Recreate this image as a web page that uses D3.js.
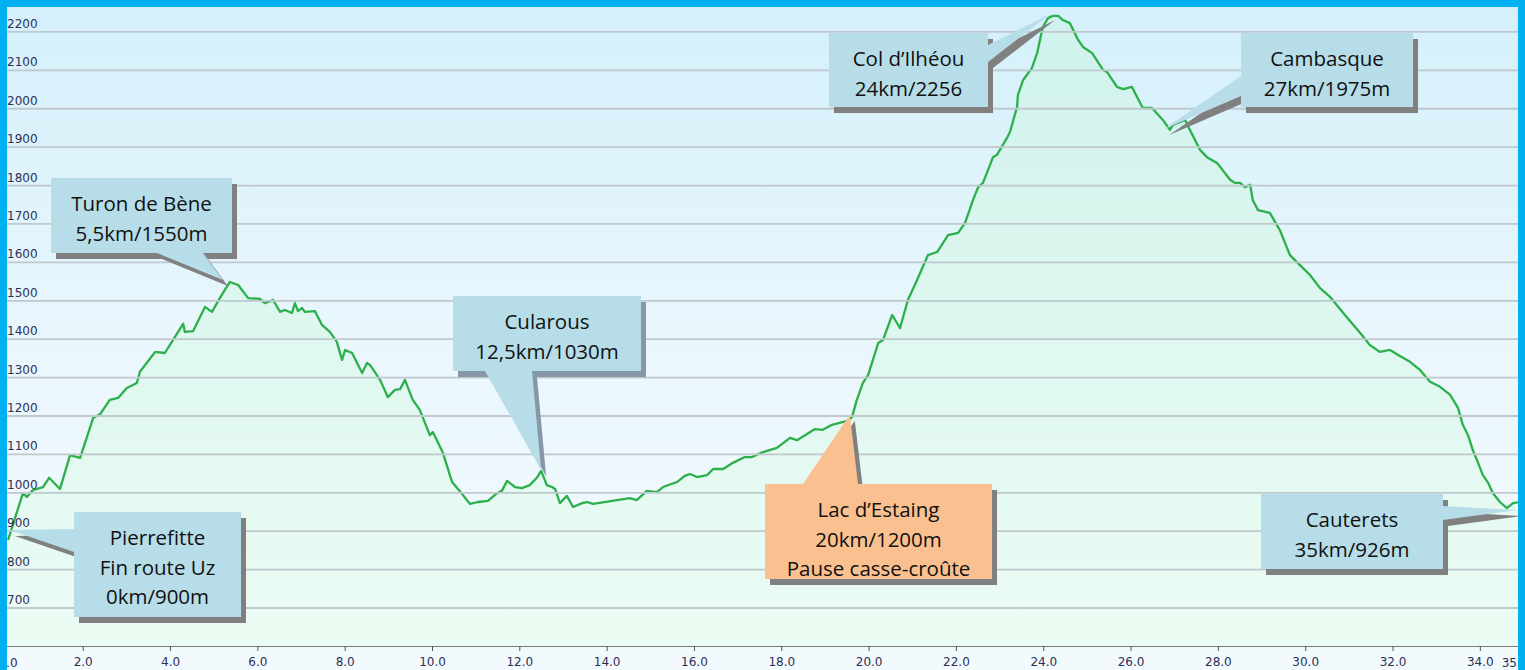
<!DOCTYPE html>
<html lang="fr">
<head>
<meta charset="UTF-8">
<title>Profil</title>
<script src="https://d3js.org/d3.v7.min.js"></script>
<style>
  body { margin: 0; background: #fff; }
  svg { display: block; }
</style>
</head>
<body>
<svg id="chart" width="1525" height="670"></svg>
<script>
// profil : distance (km) / altitude (m)
var distKm = [0.29, 0.63, 0.72, 0.86, 1.09, 1.23, 1.48, 1.71, 1.94, 2.24, 2.40, 2.62, 2.81, 3.01, 3.24, 3.31,
  3.66, 3.88, 4.07, 4.30, 4.34, 4.53, 4.80, 4.96, 5.14, 5.37, 5.56, 5.79, 6.06, 6.17, 6.36, 6.52, 6.63, 6.79,
  6.86, 6.93, 7.02, 7.09, 7.32, 7.48, 7.66, 7.82, 7.94, 8.01, 8.17, 8.40, 8.51, 8.58, 8.81, 8.99, 9.15, 9.27,
  9.38, 9.56, 9.72, 9.95, 10.02, 10.25, 10.46, 10.71, 10.87, 11.05, 11.28, 11.49, 11.60, 11.72, 11.90, 12.06,
  12.24, 12.40, 12.50, 12.63, 12.75, 12.82, 12.93, 13.09, 13.23, 13.44, 13.55, 13.69, 14.53, 14.69, 14.92,
  15.15, 15.29, 15.61, 15.79, 15.91, 16.07, 16.30, 16.44, 16.67, 16.89, 17.17, 17.33, 17.58, 17.90, 18.20,
  18.36, 18.59, 18.77, 18.95, 19.16, 19.51, 19.62, 19.73, 19.87, 19.99, 20.22, 20.33, 20.54, 20.72, 20.90,
  21.11, 21.36, 21.57, 21.82, 22.05, 22.21, 22.39, 22.51, 22.62, 22.85, 22.94, 23.17, 23.24, 23.40, 23.42,
  23.54, 23.74, 23.86, 23.99, 24.11, 24.22, 24.34, 24.45, 24.61, 24.80, 24.91, 25.12, 25.37, 25.46, 25.69,
  25.83, 26.03, 26.28, 26.49, 26.74, 26.90, 26.97, 27.25, 27.36, 27.59, 27.75, 27.98, 28.28, 28.39, 28.51,
  28.62, 28.74, 28.80, 28.92, 29.19, 29.42, 29.65, 29.88, 30.11, 30.34, 30.57, 30.91, 31.26, 31.48, 31.71,
  31.94, 32.17, 32.40, 32.63, 32.86, 33.09, 33.32, 33.50, 33.61, 33.73, 33.84, 33.96, 34.07, 34.19, 34.30,
  34.46, 34.62, 34.76, 34.92];
var elevM = [877, 999, 989, 1007, 1015, 1039, 1010, 1098, 1091, 1195, 1205, 1242, 1247, 1273, 1286, 1315,
  1367, 1364, 1398, 1440, 1419, 1421, 1484, 1471, 1507, 1549, 1541, 1507, 1505, 1494, 1502, 1471, 1476, 1468,
  1494, 1473, 1481, 1471, 1473, 1437, 1419, 1393, 1346, 1372, 1364, 1312, 1338, 1333, 1294, 1249, 1268, 1270,
  1294, 1242, 1216, 1150, 1158, 1104, 1028, 994, 971, 976, 979, 999, 1005, 1031, 1015, 1012,
  1020, 1039, 1057, 1020, 1015, 1010, 973, 992, 963, 973, 976, 971, 986, 981, 1005,
  1002, 1015, 1028, 1044, 1049, 1041, 1046, 1062, 1062, 1078, 1093, 1093, 1106, 1117, 1143,
  1137, 1153, 1166, 1164, 1177, 1187, 1197, 1242, 1286, 1307, 1390, 1398, 1463, 1429, 1502,
  1554, 1619, 1627, 1671, 1677, 1703, 1762, 1796, 1807, 1874, 1880, 1924, 1940, 2005, 2036,
  2075, 2106, 2145, 2213, 2236, 2242, 2242, 2231, 2223, 2179, 2161, 2145, 2101, 2096, 2057,
  2051, 2057, 2002, 2002, 1971, 1945, 1958, 1971, 1945, 1893, 1874, 1859, 1815, 1807, 1807,
  1796, 1802, 1762, 1736, 1729, 1684, 1619, 1593, 1567, 1533, 1510, 1463, 1416, 1385, 1367,
  1372, 1356, 1341, 1320, 1289, 1276, 1255, 1221, 1177, 1150, 1111, 1078, 1046, 1026, 999,
  976, 960, 973, 976];

var yTicks = d3.range(700, 2201, 100);
var xTicks = d3.range(2, 35, 2);
var xEnds = [0, 35];

// étapes : texte + point visé (km, m)
var stepLines = [
  ["Turon de Bène", "5,5km/1550m"],
  ["Cularous", "12,5km/1030m"],
  ["Lac d\u2019Estaing", "20km/1200m", "Pause casse-croûte"],
  ["Col d\u2019Ilhéou", "24km/2256"],
  ["Cambasque", "27km/1975m"],
  ["Pierrefitte", "Fin route Uz", "0km/900m"],
  ["Cauterets", "35km/926m"]
];
var stepKm = [5.21, 12.50, 19.57, 24.16, 26.77, 0.33, 34.85];
var stepM = [1554, 1059, 1203, 2247, 1947, 903, 955];

// mise en page des bulles
var boxes = [
  { x: 51, y: 178, w: 181, h: 75, base: [[157, 253], [203, 253]], fill: "#b7dde8", shadow: "#808080" },
  { x: 453, y: 296, w: 188, h: 75, base: [[485, 371], [532, 371]], fill: "#b7dde8", shadow: "#8797aa" },
  { x: 765, y: 484, w: 227, h: 95, base: [[803, 484], [858, 484]], fill: "#fac08f", shadow: "#808080" },
  { x: 829, y: 33, w: 159, h: 74, base: [[988, 45], [988, 62]], fill: "#b7dde8", shadow: "#808080" },
  { x: 1241, y: 33, w: 172, h: 74, base: [[1241, 76], [1241, 96]], fill: "#b7dde8", shadow: "#808080" },
  { x: 74, y: 512, w: 167, h: 105, base: [[74, 529], [74, 552]], fill: "#b7dde8", shadow: "#808080" },
  { x: 1261, y: 494, w: 182, h: 75, base: [[1443, 506], [1443, 520]], fill: "#b7dde8", shadow: "#808080" }
];

var svg = d3.select("#chart");
var W = 1525, H = 670;
var plot = { left: 7, right: 1518, top: 7, bottom: 646 };

var x = d3.scaleLinear().domain([0, 35]).range([-4.6, 1523.5]);
var y = d3.scaleLinear().domain([600, 2265]).range([646.4, 7]);

var defs = svg.append("defs");
var bg = defs.append("linearGradient").attr("id", "bg").attr("x1", 0).attr("y1", 0).attr("x2", 0).attr("y2", 1);
bg.append("stop").attr("offset", "0%").attr("stop-color", "#d4f0fb");
bg.append("stop").attr("offset", "55%").attr("stop-color", "#ebf7fd");
bg.append("stop").attr("offset", "100%").attr("stop-color", "#f3fafd");

var ar = defs.append("linearGradient").attr("id", "ar").attr("gradientUnits", "userSpaceOnUse")
  .attr("x1", 0).attr("y1", 10).attr("x2", 0).attr("y2", 646);
ar.append("stop").attr("offset", "0%").attr("stop-color", "#d0f2ec");
ar.append("stop").attr("offset", "100%").attr("stop-color", "#ebfcf3");

defs.append("clipPath").attr("id", "clip").append("rect")
  .attr("x", plot.left).attr("y", plot.top)
  .attr("width", plot.right - plot.left).attr("height", plot.bottom - plot.top);

svg.append("rect").attr("width", W).attr("height", H).attr("fill", "url(#bg)");

var pts = distKm.map(function(d, i) { return [d, elevM[i]]; });

var gPlot = svg.append("g").attr("clip-path", "url(#clip)");

gPlot.append("path")
  .datum(pts)
  .attr("fill", "url(#ar)")
  .attr("d", d3.area().x(function(d) { return x(d[0]); }).y0(y(600)).y1(function(d) { return y(d[1]); }));

// grille
svg.append("g").selectAll("line")
  .data(yTicks)
  .join("line")
  .attr("x1", plot.left).attr("x2", plot.right)
  .attr("y1", function(d) { return y(d); }).attr("y2", function(d) { return y(d); })
  .attr("stroke", "#bfc8cd")
  .attr("stroke-width", 1.8);

gPlot.append("path")
  .datum(pts)
  .attr("fill", "none")
  .attr("stroke", "#2cb04b")
  .attr("stroke-width", 2.3)
  .attr("stroke-linejoin", "round")
  .attr("d", d3.line().x(function(d) { return x(d[0]); }).y(function(d) { return y(d[1]); }));

// axe Y (étiquettes au-dessus des lignes)
svg.append("g").selectAll("text")
  .data(yTicks)
  .join("text")
  .attr("x", 7)
  .attr("y", function(d) { return y(d) - 4; })
  .attr("font-family", "DejaVu Sans, Verdana, sans-serif")
  .attr("font-size", 12)
  .attr("fill", "#2e2f55")
  .text(function(d) { return d; });

// axe X
var xAxis = svg.append("g")
  .attr("transform", "translate(0," + plot.bottom + ")")
  .call(d3.axisBottom(x).tickValues(xTicks).tickFormat(d3.format(".1f")).tickSize(5).tickPadding(6));
xAxis.select(".domain").attr("d", "M" + plot.left + ",0.5H" + plot.right).attr("stroke", "#7a7a7a");
xAxis.selectAll(".tick line").attr("stroke", "#555");
xAxis.selectAll("text")
  .attr("font-family", "DejaVu Sans, Verdana, sans-serif")
  .attr("font-size", 12)
  .attr("fill", "#2e2f55");

// étiquettes de bout d'axe, posées sur les bords (coupées par le cadre comme sur l'original)
svg.append("g").selectAll("text")
  .data(xEnds)
  .join("text")
  .attr("x", function(d, i) { return i === 0 ? 8 : 1515; })
  .attr("y", 667)
  .attr("text-anchor", "middle")
  .attr("font-family", "DejaVu Sans, Verdana, sans-serif")
  .attr("font-size", 12)
  .attr("fill", "#2e2f55")
  .text(function(d) { return d3.format(".1f")(d); });

// bulles
var dx = 5, dy = 6;
boxes.forEach(function(b, i) {
  var tip = [x(stepKm[i]), y(stepM[i])];
  var tri = [b.base[0], b.base[1], tip];
  var g = svg.append("g");
  var sh = g.append("g").attr("transform", "translate(" + dx + "," + dy + ")");
  sh.append("rect").attr("x", b.x).attr("y", b.y).attr("width", b.w).attr("height", b.h).attr("fill", b.shadow);
  sh.append("polygon").attr("points", tri.join(" ")).attr("fill", b.shadow);
  g.append("rect").attr("x", b.x).attr("y", b.y).attr("width", b.w).attr("height", b.h).attr("fill", b.fill);
  g.append("polygon").attr("points", tri.join(" ")).attr("fill", b.fill);

  var cid = "cb" + i;
  defs.append("clipPath").attr("id", cid).append("rect")
    .attr("x", b.x).attr("y", b.y).attr("width", b.w).attr("height", b.h);

  g.append("g").attr("clip-path", "url(#" + cid + ")")
    .selectAll("text")
    .data(stepLines[i])
    .join("text")
    .attr("x", b.x + b.w / 2)
    .attr("y", function(d, j) { return b.y + 33 + j * 29.5; })
    .attr("text-anchor", "middle")
    .attr("font-family", "Open Sans, Noto Sans, sans-serif")
    .attr("font-size", 20.5)
    .attr("fill", "#111")
    .text(function(d) { return d; });
});

// cadre bleu
svg.append("rect").attr("x", 0).attr("y", 0).attr("width", W).attr("height", 7).attr("fill", "#00b0f0");
svg.append("rect").attr("x", 0).attr("y", 0).attr("width", 7).attr("height", H).attr("fill", "#00b0f0");
svg.append("rect").attr("x", 1518).attr("y", 0).attr("width", 7).attr("height", H).attr("fill", "#00b0f0");
</script>
</body>
</html>
